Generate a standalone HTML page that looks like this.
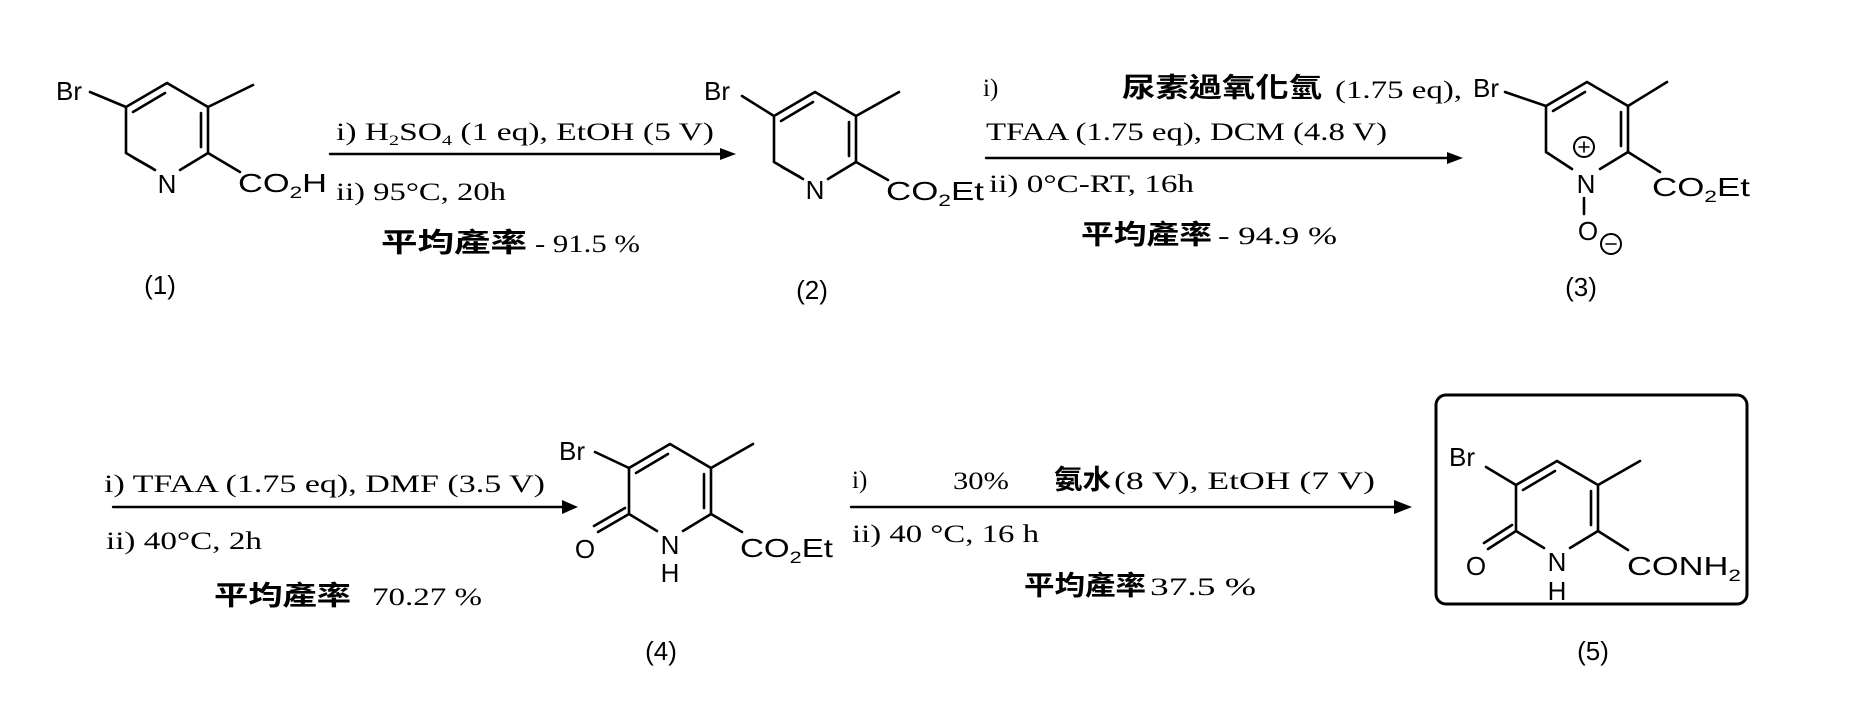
<!DOCTYPE html>
<html><head><meta charset="utf-8"><style>
html,body{margin:0;padding:0;background:#fff;}
svg{display:block;}
.s{font-family:"Liberation Sans",sans-serif;font-size:26px;fill:#000;}
.c{font-family:"Liberation Serif","Noto Serif CJK SC",serif;font-size:25px;fill:#000;}
.k{font-family:"Liberation Sans","Noto Sans CJK TC",sans-serif;font-size:27px;font-weight:bold;fill:#000;}
</style></head><body>
<svg width="1864" height="709" viewBox="0 0 1864 709" xmlns="http://www.w3.org/2000/svg">
<g stroke="#000" stroke-width="2.6" fill="none" stroke-linecap="round">
<!-- compound 1 -->
<path d="M126,107 L167,83 L208,107 L208,153 L180,170 M155,170 L126,153 L126,107"/>
<path d="M133,112 L165,93 M201,113 L201,147 M134,158 L152,168"/>
<path d="M126,107 L90,92 M208,107 L253,85 M208,153 L240,172"/>
<!-- compound 2 -->
<path d="M774,116 L815,92 L856,116 L856,162 L828,179 M803,179 L774,162 L774,116"/>
<path d="M781,121 L813,102 M849,122 L849,156 M782,167 L800,177"/>
<path d="M774,116 L742,96 M856,116 L899,92 M856,162 L888,180"/>
<!-- compound 3 -->
<path d="M1546,106 L1587,82 L1628,106 L1628,152 L1600,169 M1572,169 L1546,152 L1546,106"/>
<path d="M1553,111 L1585,92 M1621,112 L1621,146"/>
<path d="M1546,106 L1505,92 M1628,106 L1667,82 M1628,152 L1660,172 M1584,198 L1584,214"/>
<circle cx="1584" cy="147" r="10" stroke-width="2"/>
<circle cx="1611" cy="244" r="10" stroke-width="2"/>
<path d="M1579,147 L1589,147 M1584,142 L1584,152 M1606,244 L1616,244" stroke-width="1.6"/>
<!-- compound 4 -->
<path d="M629,468 L670,444 L711,468 L711,514 L683,531 M657,531 L629,514 L629,468"/>
<path d="M636,473 L668,454 M704,474 L704,508"/>
<path d="M629,468 L595,452 M711,468 L753,444 M711,514 L742,532 M629,514 L598,532 M625,508 L594,526"/>
<!-- compound 5 -->
<path d="M1516,485 L1557,461 L1598,485 L1598,531 L1570,548 M1544,548 L1516,531 L1516,485"/>
<path d="M1523,490 L1555,471 M1591,491 L1591,525"/>
<path d="M1516,485 L1486,467 M1598,485 L1640,461 M1598,531 L1628,550 M1516,531 L1488,549 M1512,525 L1484,543"/>
<!-- box -->
<rect x="1436" y="395" width="311" height="209" rx="10" stroke-width="3"/>
<!-- arrows -->
<path d="M330,154 L722,154 M986,158 L1450,158 M113,507 L564,507 M851,507 L1398,507" stroke-width="2.4"/>
</g>
<g fill="#000">
<polygon points="736,154 720,148 720,160"/>
<polygon points="1463,158 1447,152 1447,164"/>
<polygon points="578,507 562,500 562,514"/>
<polygon points="1412,507 1394,500 1394,514"/>
</g>
<!-- structure labels -->
<text class="s" x="56" y="100">Br</text>
<text class="s" x="167" y="193" text-anchor="middle">N</text>
<text class="s" x="238" y="192" textLength="89" lengthAdjust="spacingAndGlyphs">CO<tspan font-size="17" dy="6">2</tspan><tspan dy="-6">H</tspan></text>
<text class="s" x="160" y="294" text-anchor="middle">(1)</text>

<text class="s" x="704" y="100">Br</text>
<text class="s" x="815" y="199" text-anchor="middle">N</text>
<text class="s" x="886" y="200" textLength="98" lengthAdjust="spacingAndGlyphs">CO<tspan font-size="17" dy="6">2</tspan><tspan dy="-6">Et</tspan></text>
<text class="s" x="812" y="299" text-anchor="middle">(2)</text>

<text class="s" x="1473" y="97">Br</text>
<text class="s" x="1586" y="193" text-anchor="middle">N</text>
<text class="s" x="1652" y="196" textLength="98" lengthAdjust="spacingAndGlyphs">CO<tspan font-size="17" dy="6">2</tspan><tspan dy="-6">Et</tspan></text>
<text class="s" x="1588" y="240" text-anchor="middle">O</text>
<text class="s" x="1581" y="296" text-anchor="middle">(3)</text>

<text class="s" x="559" y="460">Br</text>
<text class="s" x="585" y="558" text-anchor="middle">O</text>
<text class="s" x="670" y="554" text-anchor="middle">N</text>
<text class="s" x="670" y="582" text-anchor="middle">H</text>
<text class="s" x="740" y="557" textLength="93" lengthAdjust="spacingAndGlyphs">CO<tspan font-size="17" dy="6">2</tspan><tspan dy="-6">Et</tspan></text>
<text class="s" x="661" y="660" text-anchor="middle">(4)</text>

<text class="s" x="1449" y="466">Br</text>
<text class="s" x="1476" y="575" text-anchor="middle">O</text>
<text class="s" x="1557" y="571" text-anchor="middle">N</text>
<text class="s" x="1557" y="600" text-anchor="middle">H</text>
<text class="s" x="1627" y="575" textLength="114" lengthAdjust="spacingAndGlyphs">CONH<tspan font-size="17" dy="6">2</tspan></text>
<text class="s" x="1593" y="660" text-anchor="middle">(5)</text>

<!-- conditions -->
<text class="c" x="336" y="140" textLength="378" lengthAdjust="spacingAndGlyphs">i) H<tspan font-size="15" dy="5">2</tspan><tspan dy="-5">SO</tspan><tspan font-size="15" dy="5">4</tspan><tspan dy="-5"> (1 eq), EtOH (5 V)</tspan></text>
<text class="c" x="336" y="200" textLength="170" lengthAdjust="spacingAndGlyphs">ii) 95°C, 20h</text>
<text class="k" x="381" y="252" textLength="146" lengthAdjust="spacingAndGlyphs">平均產率</text><text class="c" x="535" y="252" textLength="105" lengthAdjust="spacingAndGlyphs">- 91.5 %</text>

<text class="c" x="983" y="96">i)</text>
<text class="k" x="1122" y="97" textLength="200" lengthAdjust="spacingAndGlyphs">尿素過氧化氫</text><text class="c" x="1335" y="98" textLength="127" lengthAdjust="spacingAndGlyphs">(1.75 eq),</text>
<text class="c" x="986" y="140" textLength="401" lengthAdjust="spacingAndGlyphs">TFAA (1.75 eq), DCM (4.8 V)</text>
<text class="c" x="989" y="192" textLength="205" lengthAdjust="spacingAndGlyphs">ii) 0°C-RT, 16h</text>
<text class="k" x="1081" y="244" textLength="131" lengthAdjust="spacingAndGlyphs">平均產率</text><text class="c" x="1218" y="244" textLength="119" lengthAdjust="spacingAndGlyphs">- 94.9 %</text>

<text class="c" x="104" y="492" textLength="441" lengthAdjust="spacingAndGlyphs">i) TFAA (1.75 eq), DMF (3.5 V)</text>
<text class="c" x="106" y="549" textLength="156" lengthAdjust="spacingAndGlyphs">ii) 40°C, 2h</text>
<text class="k" x="214" y="605" textLength="137" lengthAdjust="spacingAndGlyphs">平均產率</text><text class="c" x="372" y="605" textLength="110" lengthAdjust="spacingAndGlyphs">70.27 %</text>

<text class="c" x="852" y="488">i)</text>
<text class="c" x="953" y="489" textLength="56" lengthAdjust="spacingAndGlyphs">30%</text>
<text class="k" x="1054" y="489" textLength="57" lengthAdjust="spacingAndGlyphs">氨水</text><text class="c" x="1114" y="489" textLength="261" lengthAdjust="spacingAndGlyphs">(8 V), EtOH (7 V)</text>
<text class="c" x="852" y="542" textLength="187" lengthAdjust="spacingAndGlyphs">ii) 40 °C, 16 h</text>
<text class="k" x="1024" y="595" textLength="122" lengthAdjust="spacingAndGlyphs">平均產率</text><text class="c" x="1150" y="595" textLength="106" lengthAdjust="spacingAndGlyphs">37.5 %</text>
</svg>
</body></html>
